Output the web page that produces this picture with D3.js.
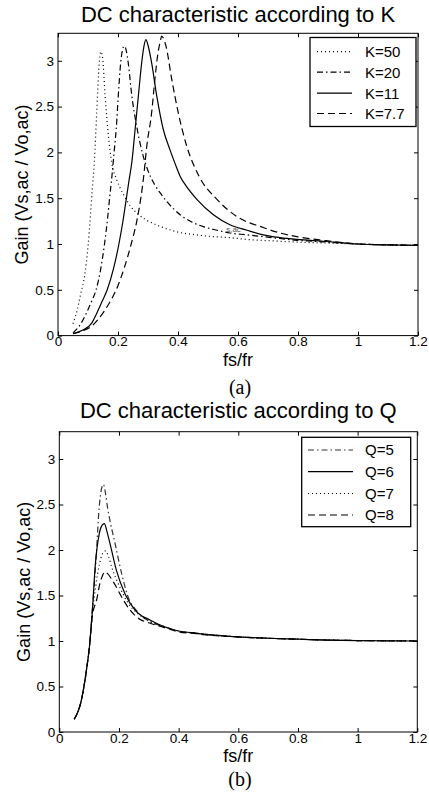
<!DOCTYPE html>
<html>
<head>
<meta charset="utf-8">
<script src="https://cdn.jsdelivr.net/npm/d3@7"></script>
<style>
  body { margin: 0; background: #fff; }
  text { font-family: "Liberation Sans", Arial, sans-serif; fill: #000; }
</style>
</head>
<body>
<div id="chart"></div>
<script>
// ---- panel (a): gain vs fs/fr for several K ----
const kNames = ["K=50", "K=20", "K=11", "K=7.7"];

const k50X = [0.05, 0.064, 0.076, 0.089, 0.10, 0.108, 0.114, 0.121, 0.129, 0.137, 0.143, 0.149, 0.157, 0.168, 0.179, 0.196, 0.22, 0.24, 0.265, 0.29, 0.32, 0.35, 0.4, 0.46, 0.52, 0.57, 0.63, 0.68, 0.74, 0.8, 0.9, 1.0, 1.1, 1.2];
const k50Y = [0.13, 0.28, 0.46, 0.66, 0.97, 1.30, 1.59, 1.89, 2.43, 2.95, 3.10, 3.02, 2.62, 2.18, 1.89, 1.70, 1.53, 1.42, 1.33, 1.27, 1.22, 1.18, 1.13, 1.10, 1.08, 1.07, 1.05, 1.04, 1.03, 1.02, 1.01, 1.0, 0.99, 0.985];

const k20X = [0.05, 0.07, 0.094, 0.11, 0.127, 0.142, 0.155, 0.165, 0.172, 0.18, 0.187, 0.194, 0.201, 0.209, 0.215, 0.221, 0.227, 0.234, 0.246, 0.262, 0.284, 0.30, 0.322, 0.34, 0.361, 0.407, 0.44, 0.484, 0.53, 0.573, 0.63, 0.684, 0.74, 0.796, 0.85, 0.9, 1.0, 1.1, 1.2];
const k20Y = [0.03, 0.10, 0.24, 0.36, 0.50, 0.72, 1.00, 1.27, 1.50, 1.75, 2.00, 2.25, 2.62, 2.98, 3.12, 3.16, 3.12, 2.98, 2.62, 2.29, 1.96, 1.80, 1.65, 1.56, 1.47, 1.32, 1.25, 1.19, 1.15, 1.12, 1.10, 1.08, 1.06, 1.04, 1.03, 1.02, 1.0, 0.99, 0.985];

const k11X = [0.05, 0.083, 0.111, 0.13, 0.148, 0.164, 0.185, 0.203, 0.216, 0.228, 0.237, 0.246, 0.257, 0.268, 0.279, 0.286, 0.293, 0.30, 0.312, 0.329, 0.351, 0.373, 0.39, 0.407, 0.43, 0.462, 0.518, 0.573, 0.63, 0.684, 0.74, 0.796, 0.884, 1.0, 1.1, 1.2];
const k11Y = [0.02, 0.06, 0.13, 0.25, 0.38, 0.50, 0.73, 1.00, 1.24, 1.50, 1.70, 1.89, 2.25, 2.62, 2.98, 3.15, 3.23, 3.17, 2.98, 2.62, 2.25, 2.03, 1.88, 1.74, 1.62, 1.49, 1.32, 1.21, 1.15, 1.10, 1.07, 1.05, 1.03, 1.0, 0.99, 0.985];

const k77X = [0.05, 0.08, 0.111, 0.144, 0.17, 0.194, 0.22, 0.244, 0.262, 0.276, 0.285, 0.296, 0.312, 0.323, 0.333, 0.34, 0.346, 0.352, 0.36, 0.379, 0.401, 0.429, 0.47, 0.529, 0.596, 0.684, 0.74, 0.796, 0.884, 1.0, 1.1, 1.2];
const k77Y = [0.02, 0.05, 0.10, 0.22, 0.35, 0.50, 0.73, 1.00, 1.24, 1.50, 1.72, 2.07, 2.43, 2.80, 3.08, 3.20, 3.27, 3.24, 3.16, 2.80, 2.43, 2.07, 1.74, 1.49, 1.30, 1.18, 1.12, 1.08, 1.04, 1.0, 0.99, 0.985];

// ---- panel (b): gain vs fs/fr for several Q ----
const qNames = ["Q=5", "Q=6", "Q=7", "Q=8"];

const q5X = [0.05, 0.074, 0.091, 0.102, 0.111, 0.119, 0.124, 0.134, 0.142, 0.148, 0.155, 0.162, 0.17, 0.187, 0.209, 0.231, 0.26, 0.3, 0.35, 0.4, 0.46, 0.5, 0.6, 0.7, 0.8, 0.9, 1.0, 1.2];
const q5Y = [0.14, 0.35, 0.68, 0.97, 1.36, 1.70, 1.95, 2.48, 2.68, 2.72, 2.62, 2.46, 2.32, 2.07, 1.74, 1.48, 1.33, 1.22, 1.16, 1.11, 1.085, 1.07, 1.045, 1.03, 1.02, 1.01, 1.005, 1.0];

const q6X = [0.05, 0.074, 0.091, 0.102, 0.111, 0.12, 0.134, 0.143, 0.151, 0.16, 0.17, 0.192, 0.22, 0.254, 0.304, 0.35, 0.4, 0.46, 0.5, 0.6, 0.7, 0.8, 0.9, 1.0, 1.2];
const q6Y = [0.14, 0.35, 0.68, 0.97, 1.34, 1.81, 2.18, 2.27, 2.29, 2.20, 2.07, 1.77, 1.52, 1.34, 1.23, 1.16, 1.11, 1.085, 1.07, 1.045, 1.03, 1.02, 1.01, 1.005, 1.0];

const q7X = [0.05, 0.074, 0.091, 0.102, 0.111, 0.122, 0.135, 0.145, 0.155, 0.165, 0.176, 0.203, 0.23, 0.26, 0.3, 0.35, 0.4, 0.46, 0.5, 0.6, 0.7, 0.8, 0.9, 1.0, 1.2];
const q7Y = [0.14, 0.35, 0.68, 0.97, 1.31, 1.60, 1.85, 1.96, 1.99, 1.93, 1.81, 1.59, 1.42, 1.31, 1.22, 1.16, 1.11, 1.085, 1.07, 1.045, 1.03, 1.02, 1.01, 1.005, 1.0];

const q8X = [0.05, 0.074, 0.091, 0.102, 0.111, 0.125, 0.136, 0.145, 0.153, 0.162, 0.181, 0.215, 0.237, 0.27, 0.3, 0.35, 0.4, 0.46, 0.5, 0.6, 0.7, 0.8, 0.9, 1.0, 1.2];
const q8Y = [0.14, 0.35, 0.68, 0.97, 1.28, 1.45, 1.63, 1.72, 1.76, 1.74, 1.65, 1.45, 1.34, 1.24, 1.20, 1.15, 1.10, 1.08, 1.065, 1.045, 1.03, 1.02, 1.01, 1.005, 1.0];

// ---- axis ticks ----
const xTicks = [0, 0.2, 0.4, 0.6, 0.8, 1, 1.2];
const xTickLabels = ["0", "0.2", "0.4", "0.6", "0.8", "1", "1.2"];
const yTicks = [0, 0.5, 1, 1.5, 2, 2.5, 3];
const yTickLabels = ["0", "0.5", "1", "1.5", "2", "2.5", "3"];

// line styles (matlab ':', '-.', '-', '--')
const dotted = "1,3", dashDot = "6,3,1.5,3", solid = null, dashed = "7,4";

const svg = d3.select("#chart").append("svg")
    .attr("width", 429)
    .attr("height", 799);

function zip(xs, ys) { return xs.map((x, i) => ({x: x, y: ys[i]})); }

function drawPanel(p) {
    const w = p.right - p.left, h = p.bottom - p.top;
    const x = d3.scaleLinear().domain([0, 1.2]).range([0, w]);
    const y = d3.scaleLinear().domain([0, 3.3]).range([h, 0]);

    const g = svg.append("g").attr("transform", `translate(${p.left},${p.top})`);

    // ticks on all four sides, pointing inward
    g.append("g").attr("transform", `translate(0,${h})`)
        .call(d3.axisBottom(x).tickValues(xTicks).tickSize(-4).tickPadding(1)
            .tickFormat((d, i) => xTickLabels[i]));
    g.append("g")
        .call(d3.axisLeft(y).tickValues(yTicks).tickSize(-4).tickPadding(4)
            .tickFormat((d, i) => yTickLabels[i]));
    g.append("g").call(d3.axisTop(x).tickValues(xTicks).tickSize(-4).tickFormat(""));
    g.append("g").attr("transform", `translate(${w},0)`)
        .call(d3.axisRight(y).tickValues(yTicks).tickSize(-4).tickFormat(""));
    g.selectAll(".domain").remove();
    g.selectAll(".tick line").attr("stroke", "#000");
    g.selectAll(".tick text").style("font-size", "13.5px").style("font-family", '"Liberation Sans", Arial, sans-serif');

    g.append("rect").attr("width", w).attr("height", h)
        .attr("fill", "none").attr("stroke", "#000").attr("stroke-width", 1);

    const line = d3.line().x(d => x(d.x)).y(d => y(d.y)).curve(d3.curveMonotoneX);
    p.series.forEach(s => {
        g.append("path")
            .datum(zip(s.xs, s.ys))
            .attr("d", line)
            .attr("fill", "none")
            .attr("stroke", s.color || "#000")
            .attr("stroke-width", 1.2)
            .attr("stroke-dasharray", s.dash);
    });

    // title, axis labels, caption
    svg.append("text").attr("x", (p.left + p.right) / 2).attr("y", p.titleY)
        .attr("text-anchor", "middle").style("font-size", "22px").text(p.title);
    svg.append("text").attr("x", (p.left + p.right) / 2).attr("y", p.bottom + 30)
        .attr("text-anchor", "middle").style("font-size", "18px").text("fs/fr");
    svg.append("text")
        .attr("transform", `translate(${p.ylabelX},${(p.top + p.bottom) / 2}) rotate(-90)`)
        .attr("text-anchor", "middle").style("font-size", "18px").text("Gain (Vs,ac / Vo,ac)");
    svg.append("text").attr("x", 240).attr("y", p.captionY)
        .attr("text-anchor", "middle")
        .style("font-family", '"Liberation Serif", "Times New Roman", serif')
        .style("font-size", "20px").text(p.caption);

    // legend
    const lg = svg.append("g");
    lg.append("rect").attr("x", p.leg.x).attr("y", p.leg.y)
        .attr("width", p.leg.w).attr("height", p.leg.h)
        .attr("fill", "#fff").attr("stroke", "#000").attr("stroke-width", 1.3);
    p.series.forEach((s, i) => {
        const ly = p.leg.rows[i];
        lg.append("line").attr("x1", p.leg.x1).attr("x2", p.leg.x2)
            .attr("y1", ly).attr("y2", ly)
            .attr("stroke", s.color || "#000").attr("stroke-width", 1.2)
            .attr("stroke-dasharray", s.dash);
        lg.append("text").attr("x", 365).attr("y", ly).attr("dy", "0.36em")
            .style("font-size", "15px").text(s.name);
    });
    return {g: g, x: x, y: y};
}

const pa = drawPanel({
    left: 58, right: 418, top: 33.3, bottom: 335.6,
    title: "DC characteristic according to K", titleY: 22,
    ylabelX: 28, caption: "(a)", captionY: 394,
    leg: {x: 310, y: 37.5, w: 106, h: 89, x1: 317, x2: 352, rows: [51.7, 72.2, 93.2, 113.5]},
    series: [
        {name: kNames[0], xs: k50X, ys: k50Y, dash: dotted},
        {name: kNames[1], xs: k20X, ys: k20Y, dash: dashDot},
        {name: kNames[2], xs: k11X, ys: k11Y, dash: solid},
        {name: kNames[3], xs: k77X, ys: k77Y, dash: dashed}
    ]
});

// stray label fragment visible in the original figure
pa.g.append("text").attr("x", pa.x(0.585)).attr("y", pa.y(1.13))
    .attr("text-anchor", "middle").style("font-size", "8px").style("fill", "#555").text("s,ac");

drawPanel({
    left: 59.3, right: 417.3, top: 431.7, bottom: 732,
    title: "DC characteristic according to Q", titleY: 418,
    ylabelX: 30, caption: "(b)", captionY: 786,
    leg: {x: 301.7, y: 437.3, w: 109, h: 89.4, x1: 308, x2: 353, rows: [450, 471.7, 493.5, 515]},
    series: [
        {name: qNames[0], xs: q5X, ys: q5Y, dash: dashDot, color: "#333"},
        {name: qNames[1], xs: q6X, ys: q6Y, dash: solid},
        {name: qNames[2], xs: q7X, ys: q7Y, dash: dotted},
        {name: qNames[3], xs: q8X, ys: q8Y, dash: dashed}
    ]
});
</script>
</body>
</html>
